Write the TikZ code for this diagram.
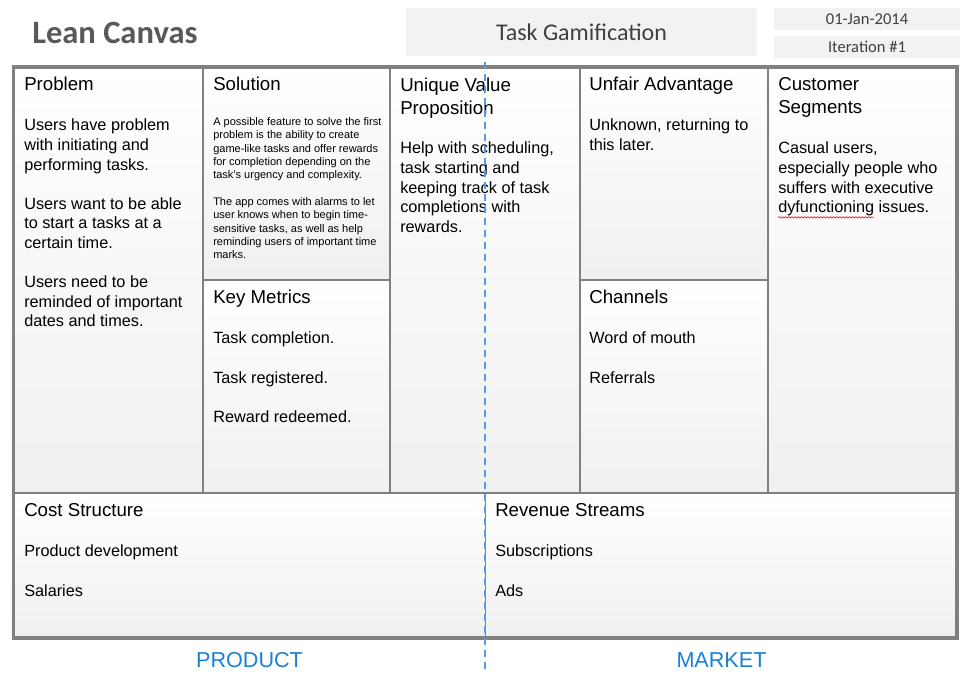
\documentclass[tikz,border=0pt]{standalone}
\usepackage{fontspec}
\setmainfont{Liberation Sans}
\newfontfamily\calibri{Carlito}
\usetikzlibrary{decorations.pathmorphing}
\definecolor{linegray}{HTML}{808080}
\definecolor{boxgray}{HTML}{F2F2F2}
\definecolor{titlegray}{HTML}{595959}
\definecolor{boxtext}{HTML}{404040}
\definecolor{sidetext}{HTML}{1B7FD4}
\definecolor{dashblue}{HTML}{5B9BD5}
\begin{document}
\begin{tikzpicture}[x=0.75pt,y=-0.75pt,
	cellshade/.style={top color=white,bottom color=black!6},
	gridline/.style={draw=linegray,line width=1pt},
	frame/.style={draw=linegray,line width=2.4pt},
	head/.style={anchor=north west,inner sep=0pt,align=left,font=\fontsize{14}{17.25}\selectfont,execute at begin node=\strut},
	body/.style={anchor=north west,inner sep=0pt,align=left,font=\fontsize{12.2}{14.7}\selectfont,execute at begin node=\strut},
	smallbody/.style={anchor=north west,inner sep=0pt,align=left,font=\fontsize{8.25}{10}\selectfont,execute at begin node=\strut},
	topbox/.style={fill=boxgray,inner sep=0pt,text=boxtext,font=\calibri},
	sidelabel/.style={inner sep=0pt,text=sidetext,font=\fontsize{16.2}{19}\selectfont},
	spellmark/.style={draw=red,line width=0.45pt,decorate,decoration={snake,amplitude=0.5pt,segment length=2.4pt}}]
	\useasboundingbox (0,0) rectangle (975,685);
	\foreach \xa/\ya/\xb/\yb in {13.5/67/203/493,203/67/390/280,203/280/390/493,390/67/580/493,580/67/768/280,580/280/768/493,768/67/957/493,13.5/493/485.5/638,485.5/493/957/638}
		\shade[cellshade] (\xa,\ya) rectangle (\xb,\yb);
	\draw[gridline] (203,67)--(203,493);
	\draw[gridline] (390,67)--(390,493);
	\draw[gridline] (580,67)--(580,493);
	\draw[gridline] (768,67)--(768,493);
	\draw[gridline] (203,280)--(390,280);
	\draw[gridline] (580,280)--(768,280);
	\draw[gridline] (13.5,493)--(957,493);
	\draw[gridline] (485.5,493)--(485.5,638);
	\draw[frame] (13.5,67) rectangle (957,638);
	\node[anchor=base west,inner sep=0pt,text=titlegray,font={\calibri\bfseries\fontsize{24.4}{28}\selectfont}] (title) at (32,43.5) {Lean Canvas};
	\node[topbox,minimum width=263.25pt,minimum height=36pt,font={\calibri\fontsize{18}{21}\selectfont}] (task) at (581.5,32) {Task Gamification};
	\node[topbox,minimum width=139.5pt,minimum height=16.5pt,font={\calibri\fontsize{12.4}{15}\selectfont}] (date) at (867,19) {01-Jan-2014};
	\node[topbox,minimum width=139.5pt,minimum height=16.5pt,font={\calibri\fontsize{12.4}{15}\selectfont}] (iter) at (867,47) {Iteration \#1};
	\node[head] (probhead) at (24,74.4) {Problem};
	\node[body] (probtext) at (24,118.8) {Users have problem\\with initiating and\\performing tasks.\\[\baselineskip]Users want to be able\\to start a tasks at a\\certain time.\\[\baselineskip]Users need to be\\reminded of important\\dates and times.};
	\node[head] (solhead) at (213,74.4) {Solution};
	\node[smallbody] (soltext) at (213,117.2) {A possible feature to solve the first\\problem is the ability to create\\game-like tasks and offer rewards\\for completion depending on the\\task's urgency and complexity.\\[\baselineskip]The app comes with alarms to let\\user knows when to begin time-\\sensitive tasks, as well as help\\reminding users of important time\\marks.};
	\node[head] (keyhead) at (213,287.4) {Key Metrics};
	\node[body] (keytext) at (213,331.8) {Task completion.\\[\baselineskip]Task registered.\\[\baselineskip]Reward redeemed.};
	\node[head] (uvphead) at (400,77.4) {Unique Value\\Proposition};
	\node[body] (uvptext) at (400,141.8) {Help with scheduling,\\task starting and\\keeping track of task\\completions with\\rewards.};
	\node[head] (unfhead) at (589,74.4) {Unfair Advantage};
	\node[body] (unftext) at (589,118.8) {Unknown, returning to\\this later.};
	\node[head] (chanhead) at (589,287.4) {Channels};
	\node[body] (chantext) at (589,331.8) {Word of mouth\\[\baselineskip]Referrals};
	\node[head] (custhead) at (778,77.4) {Customer\\Segments};
	\node[body] (custtext) at (778,141.8) {Casual users,\\especially people who\\suffers with executive\\dyfunctioning issues.};
	\node[head] (costhead) at (24,500.4) {Cost Structure};
	\node[body] (costtext) at (24,544.8) {Product development\\[\baselineskip]Salaries};
	\node[head] (revhead) at (495,500.4) {Revenue Streams};
	\node[body] (revtext) at (495,544.8) {Subscriptions\\[\baselineskip]Ads};
	\draw[spellmark] ([yshift=1.1pt]custtext.south west) -- ++(96,0);
	\node[sidelabel] (product) at (249.5,660) {PRODUCT};
	\node[sidelabel] (market) at (721.5,660) {MARKET};
	\draw[dashblue,line width=1pt,dash pattern=on 5.5pt off 3.5pt] (485,62)--(485,672);
\end{tikzpicture}
\end{document}
